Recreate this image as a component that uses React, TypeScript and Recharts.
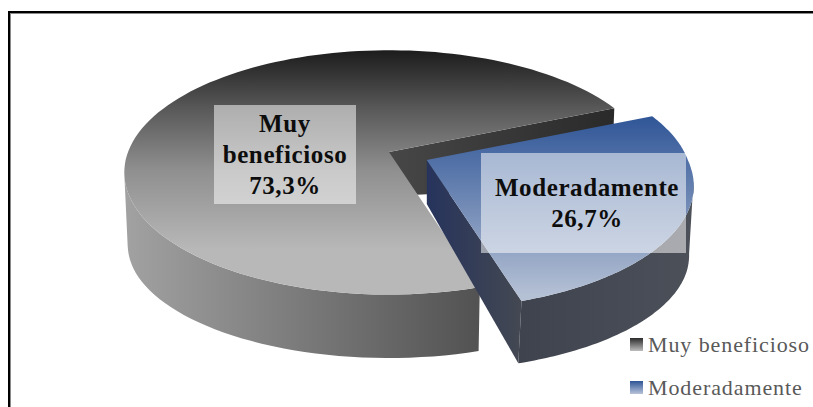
import { PieChart, Pie, Legend } from "recharts";

const categories = ["Muy beneficioso", "Moderadamente"];
const shares = [73.3, 26.7];
const labelLines = [["Muy", "beneficioso"], ["Moderadamente"]];

const data = categories.map((name, i) => ({ name, value: shares[i] }));

// perspective of the pie plate, fitted by eye against the picture
const PERSP = 0.167;
const SQUASH = 0.455;
const EXPLODE = 0.158;
const FLOOR_A = 0.987;
const FLOOR_B = 113;
const FLOOR_DROP = 93;
const APEX_DROP = 44;
const NEAR_GROW = 0.045;
const NEAR_GROW_FLOOR = 0.022;

const rad = (deg: number) => (deg * Math.PI) / 180;

const flat = (R: number, u: number, v: number) => {
  const d = 1 + PERSP * v;
  return [(R * u) / d, (-R * SQUASH * v) / d];
};

// rim point on the top face and on the floor for a given pie angle
const rim = (R: number, deg: number) => {
  const v = Math.sin(rad(deg));
  const [x, y] = flat(R, Math.cos(rad(deg)), v);
  const q = 1 - PERSP * PERSP;
  const a = R / Math.sqrt(q);
  const b = (R * SQUASH) / q;
  const off = (R * SQUASH * PERSP) / q;
  const cos = x / a;
  const sin = (y - off) / b;
  return {
    v,
    front: sin >= 0,
    top: [x, y],
    bottom: [a * FLOOR_A * cos, FLOOR_DROP + FLOOR_B * sin],
  };
};

const toPath = (pts: number[][]) =>
  "M" + pts.map((p) => `${p[0].toFixed(1)},${p[1].toFixed(1)}`).join("L") + "Z";

const PieSlab = (props: any) => {
  const { cx, cy, outerRadius: R, startAngle, endAngle, name } = props;
  const isBlue = name === categories[1];
  let sx = cx;
  let sy = cy;
  if (isBlue) {
    const mid = rad((startAngle + endAngle) / 2);
    const [ox, oy] = flat(R, EXPLODE * Math.cos(mid), EXPLODE * Math.sin(mid));
    sx += ox;
    sy += oy;
  }
  // the pulled out slice sits nearer the viewer, so its front grows a little
  const at = (p: number[], v = 0, grow = NEAR_GROW) => {
    const g = isBlue ? 1 + grow * Math.max(0, -v) : 1;
    return [sx + p[0] * g, sy + p[1] * g];
  };

  const samples = [];
  for (let i = 0; i <= 120; i++) {
    samples.push(rim(R, startAngle + ((endAngle - startAngle) * i) / 120));
  }
  const topPts = samples.map((s) => at(s.top, s.v));
  const frontPart = samples.filter((s) => s.front);
  const wall = [
    ...frontPart.map((s) => at(s.top, s.v)),
    ...frontPart.slice().reverse().map((s) => at(s.bottom, s.v, NEAR_GROW_FLOOR)),
  ];
  const apex = [sx, sy];
  const apexLow = [sx, sy + APEX_DROP];
  const last = samples[samples.length - 1];
  const cut = [apex, at(last.top, last.v), at(last.bottom, last.v, NEAR_GROW_FLOOR), apexLow];

  return (
    <g>
      <path d={toPath(cut)} fill={isBlue ? "url(#cutBlue)" : "url(#cutDark)"} />
      <path d={toPath(wall)} fill={isBlue ? "url(#wallBlue)" : "url(#wallGrey)"} />
      <path
        d={toPath([apex, ...topPts])}
        fill={isBlue ? "url(#faceBlue)" : "url(#faceGrey)"}
      />
    </g>
  );
};

const boxes = [
  { x: 214, y: 105, w: 142, h: 99, tx: 285, ty: 132 },
  { x: 481, y: 153, w: 205, h: 100, tx: 587, ty: 196 },
];

const DataLabel = (props: any) => {
  const { index, value } = props;
  const b = boxes[index];
  const lines = [...labelLines[index], value.toFixed(1).replace(".", ",") + "%"];
  return (
    <g>
      <rect x={b.x} y={b.y} width={b.w} height={b.h} fill="#fff" fillOpacity={0.52} />
      <text
        x={b.tx}
        y={b.ty}
        textAnchor="middle"
        fontFamily="Liberation Serif"
        fontWeight="bold"
        fontSize={25}
        letterSpacing={0.6}
        fill="#0d0d0d"
      >
        {lines.map((l, i) => (
          <tspan key={l} x={b.tx} dy={i === 0 ? 0 : 31}>
            {l}
          </tspan>
        ))}
      </text>
    </g>
  );
};

const swatches = [
  "linear-gradient(#2b2b2b, #bdbdbd)",
  "linear-gradient(#2f5597, #b8c3d8)",
];

const LegendBox = ({ payload }: any) => (
  <div>
    {(payload || []).map((p: any, i: number) => (
      <div
        key={p.value}
        style={{ display: "flex", alignItems: "center", height: 43 }}
      >
        <span
          style={{
            width: 13,
            height: 13,
            marginRight: 5,
            background: swatches[i],
          }}
        />
        <span
          style={{
            fontFamily: "Liberation Serif",
            fontSize: 22,
            letterSpacing: 0.9,
            color: "#595959",
          }}
        >
          {p.value}
        </span>
      </div>
    ))}
  </div>
);

export default function App() {
  return (
    <div
      style={{
        position: "absolute",
        left: 0,
        top: 0,
        width: 813,
        height: 407,
        overflow: "hidden",
        background: "#fff",
      }}
    >
      <div
        style={{
          position: "absolute",
          left: 8,
          top: 11,
          width: 805,
          height: 396,
          borderLeft: "2px solid #000",
          borderTop: "2px solid #000",
          boxSizing: "border-box",
        }}
      >
        <div
          style={{
            width: "100%",
            height: "100%",
            borderLeft: "1px solid #8a8a8a",
            borderTop: "1px solid #8a8a8a",
            boxSizing: "border-box",
          }}
        />
      </div>
      <div style={{ position: "absolute", left: 0, top: 0 }}>
        <PieChart width={813} height={407} margin={{ top: 0, right: 0, bottom: 0, left: 0 }}>
          <defs>
            <linearGradient id="faceGrey" gradientUnits="userSpaceOnUse" x1="0" y1="50" x2="0" y2="250">
              <stop offset="0%" stopColor="#1c1c1c" />
              <stop offset="30%" stopColor="#5a5a5a" />
              <stop offset="60%" stopColor="#8f8f8f" />
              <stop offset="100%" stopColor="#b8b8b8" />
            </linearGradient>
            <linearGradient id="wallGrey" gradientUnits="userSpaceOnUse" x1="124" y1="0" x2="475" y2="0">
              <stop offset="0%" stopColor="#a2a2a2" />
              <stop offset="100%" stopColor="#535353" />
            </linearGradient>
            <linearGradient id="cutDark" gradientUnits="userSpaceOnUse" x1="389" y1="0" x2="612" y2="0">
              <stop offset="0%" stopColor="#474747" />
              <stop offset="100%" stopColor="#2a2a2a" />
            </linearGradient>
            <linearGradient id="faceBlue" gradientUnits="userSpaceOnUse" x1="0" y1="115" x2="0" y2="295">
              <stop offset="0%" stopColor="#2f5597" />
              <stop offset="100%" stopColor="#b4c0d4" />
            </linearGradient>
            <linearGradient id="wallBlue" gradientUnits="userSpaceOnUse" x1="520" y1="0" x2="690" y2="0">
              <stop offset="0%" stopColor="#3e434e" />
              <stop offset="100%" stopColor="#4c5059" />
            </linearGradient>
            <linearGradient id="cutBlue" gradientUnits="userSpaceOnUse" x1="427" y1="0" x2="520" y2="0">
              <stop offset="0%" stopColor="#26335c" />
              <stop offset="100%" stopColor="#434852" />
            </linearGradient>
          </defs>
          <Pie
            data={data}
            dataKey="value"
            nameKey="name"
            cx={389}
            cy={152}
            outerRadius={261}
            startAngle={-73}
            endAngle={-433}
            stroke="none"
            shape={PieSlab}
            label={DataLabel}
            labelLine={false}
            isAnimationActive={false}
          />
          <Legend
            content={LegendBox}
            layout="vertical"
            itemSorter={null}
            wrapperStyle={{ position: "absolute", left: 630, top: 323, width: 183, bottom: "auto" }}
          />
        </PieChart>
      </div>
    </div>
  );
}
